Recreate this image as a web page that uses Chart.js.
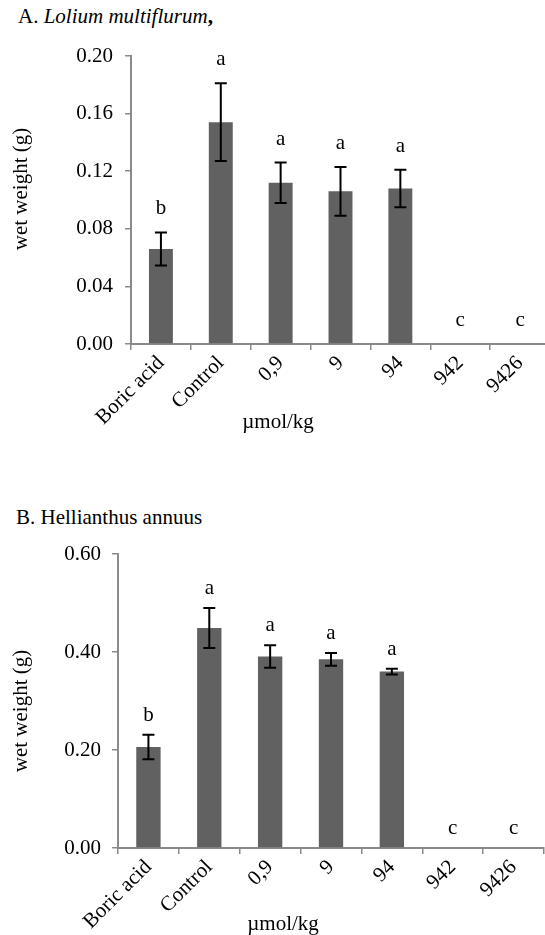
<!DOCTYPE html>
<html>
<head>
<meta charset="utf-8">
<script src="https://cdn.jsdelivr.net/npm/chart.js@4.4.1/dist/chart.umd.min.js"></script>
<style>
  body { margin: 0; background: #fff; width: 545px; height: 935px; overflow: hidden; position: relative; font-family: 'Liberation Serif', serif; }
  .ttl { position: absolute; font-family: 'Liberation Serif', serif; font-size: 21px; line-height: 24px; color: #000; white-space: nowrap; }
  #wrapA { position: absolute; left: 0; top: 0; width: 560px; height: 460px; }
  #wrapB { position: absolute; left: 0; top: 460px; width: 545px; height: 475px; }
</style>
</head>
<body>
<div class="ttl" style="left:18px; top:4px;">A. <i>Lolium multiflurum</i><b>,</b></div>
<div class="ttl" style="left:16px; top:505px;">B. Hellianthus annuus</div>
<div id="wrapA"><canvas id="chartA"></canvas></div>
<div id="wrapB"><canvas id="chartB"></canvas></div>
<script>
// categories (same for both plants)
const doses = ['Boric acid', 'Control', '0,9', '9', '94', '942', '9426'];

// A. Lolium multiflurum - wet weight (g)
const loliumMean = [0.066, 0.154, 0.112, 0.106, 0.108, 0, 0];
const loliumErr  = [0.0115, 0.027, 0.014, 0.017, 0.013, 0, 0];
const loliumSig  = ['b', 'a', 'a', 'a', 'a', 'c', 'c'];
const loliumTicks = [0, 0.04, 0.08, 0.12, 0.16, 0.20];

// B. Hellianthus annuus - wet weight (g)
const helliMean = [0.206, 0.449, 0.391, 0.385, 0.360, 0, 0];
const helliErr  = [0.025, 0.041, 0.023, 0.013, 0.006, 0, 0];
const helliSig  = ['b', 'a', 'a', 'a', 'a', 'c', 'c'];
const helliTicks = [0, 0.20, 0.40, 0.60];

const FONT = 'Liberation Serif';
const AXIS = '#8a8a8a';
Chart.defaults.font.family = FONT;

// error bars + significance letters + axis titles
const extras = {
  id: 'extras',
  afterDatasetsDraw(chart, args, opts) {
    const ctx = chart.ctx;
    const ys = chart.scales.y;
    const meta = chart.getDatasetMeta(0);
    ctx.save();
    ctx.strokeStyle = '#000';
    ctx.lineWidth = 2;
    meta.data.forEach((bar, i) => {
      const v = opts.mean[i], e = opts.err[i];
      if (e > 0) {
        const t = ys.getPixelForValue(v + e), b = ys.getPixelForValue(v - e);
        ctx.beginPath();
        ctx.moveTo(bar.x, t); ctx.lineTo(bar.x, b);
        ctx.moveTo(bar.x - 6, t); ctx.lineTo(bar.x + 6, t);
        ctx.moveTo(bar.x - 6, b); ctx.lineTo(bar.x + 6, b);
        ctx.stroke();
      }
      ctx.fillStyle = '#000';
      ctx.font = '21px "Liberation Serif"';
      ctx.textAlign = 'center';
      ctx.textBaseline = 'alphabetic';
      ctx.fillText(opts.sig[i], bar.x, ys.getPixelForValue(v + e) - opts.letterGap);
    });
    // axis titles
    const ca = chart.chartArea;
    ctx.font = '21px "Liberation Serif"';
    ctx.textAlign = 'center';
    ctx.textBaseline = 'middle';
    ctx.fillText('µmol/kg', opts.xTitleX, ca.bottom + opts.xTitleDy);
    ctx.translate(21, (ca.top + ca.bottom) / 2 + opts.yTitleDy);
    ctx.rotate(-Math.PI / 2);
    ctx.fillText('wet weight (g)', 0, 0);
    ctx.restore();
  }
};

function makeChart(id, mean, err, sig, ticks, cfg) {
  const yMax = ticks[ticks.length - 1];
  return new Chart(document.getElementById(id), {
    type: 'bar',
    data: {
      labels: doses,
      datasets: [{
        data: mean,
        backgroundColor: '#616161',
        borderWidth: 0,
        barPercentage: cfg.barPct,
        categoryPercentage: 1
      }]
    },
    options: {
      responsive: true,
      maintainAspectRatio: false,
      animation: false,
      layout: { padding: { top: cfg.top, right: cfg.right, left: 0, bottom: 0 } },
      plugins: {
        legend: { display: false },
        tooltip: { enabled: false },
        extras: {
          mean: mean, err: err, sig: sig,
          letterGap: cfg.letterGap,
          xTitleX: cfg.xTitleX, xTitleDy: cfg.xTitleDy, yTitleDy: cfg.yTitleDy
        }
      },
      scales: {
        x: {
          grid: { display: true, drawOnChartArea: false, offset: true, tickLength: 6, color: AXIS, lineWidth: 1.5 },
          border: { color: AXIS, width: 2 },
          ticks: { color: '#000', font: { family: FONT, size: 21 }, minRotation: 45, maxRotation: 45, padding: 1 },
          afterFit(scale) { scale.height = cfg.xHeight; }
        },
        y: {
          min: 0, max: yMax,
          afterBuildTicks(scale) { scale.ticks = ticks.map(v => ({ value: v })); },
          grid: { display: true, drawOnChartArea: false, tickLength: 6, color: AXIS, lineWidth: 1.5 },
          border: { color: AXIS, width: 2 },
          ticks: { color: '#000', font: { family: FONT, size: 21 }, padding: cfg.yPad,
                   callback: v => Number(v).toFixed(2) },
          afterFit(scale) { scale.width = cfg.yWidth; }
        }
      }
    },
    plugins: [extras]
  });
}

makeChart('chartA', loliumMean, loliumErr, loliumSig, loliumTicks,
  { top: 56, right: 10, yWidth: 131, xHeight: 116, barPct: 0.4, yPad: 12,
    letterGap: 18, xTitleX: 278, xTitleDy: 78, yTitleDy: -11 });

makeChart('chartB', helliMean, helliErr, helliSig, helliTicks,
  { top: 94, right: 1, yWidth: 118, xHeight: 87, barPct: 0.4, yPad: 11,
    letterGap: 14, xTitleX: 283, xTitleDy: 76, yTitleDy: 10 });
</script>
</body>
</html>
